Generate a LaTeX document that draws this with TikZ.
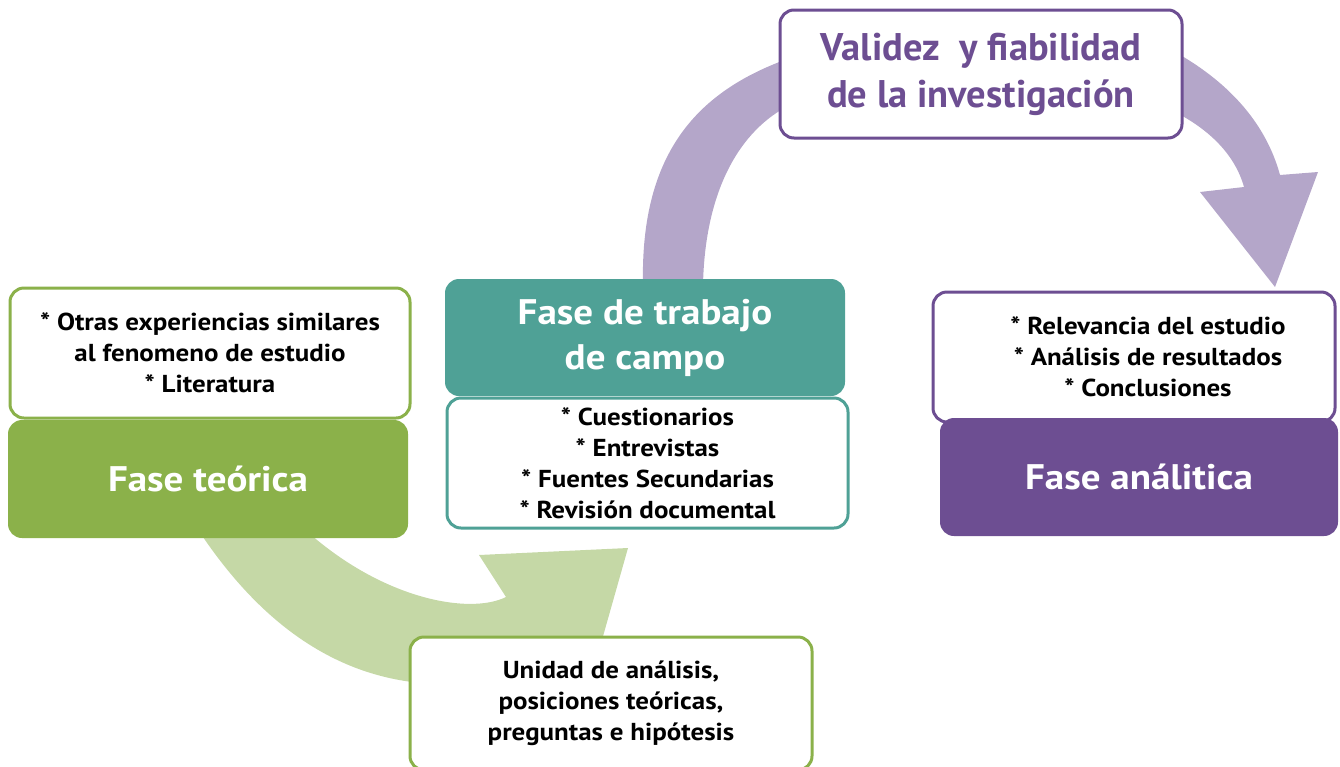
\documentclass[tikz,border=0pt]{standalone}
\usepackage{fontspec}
\setmainfont{PT Sans}[FakeStretch=1.1]
\newfontfamily\titlefont{PT Sans}
\definecolor{grn}{HTML}{8BB14A}
\definecolor{lgrn}{HTML}{C5D8A6}
\definecolor{teal}{HTML}{4FA196}
\definecolor{prp}{HTML}{6D4E92}
\definecolor{lprp}{HTML}{B4A6C9}
\begin{document}
\begin{tikzpicture}[x=1pt,y=-1pt,
  outl/.style={draw=#1, fill=white, line width=3pt, rounded corners=14pt, inner sep=0pt,
    align=center, text=black, font=\bfseries\fontsize{24.5}{31}\selectfont},
  filledbox/.style={fill=#1, rounded corners=14pt, inner sep=0pt, align=center,
    text=white, font=\bfseries\fontsize{35.5}{45}\selectfont},
  band/.style={fill=#1, draw=none}]
\useasboundingbox (0,0) rectangle (1340,766);
\clip (0,0) rectangle (1340,766);
% arrows
\path[band=lgrn] (195,525) .. controls (250,610) and (320,670) .. (412,682)
  -- (560,681) -- (581,714) -- (628,548) -- (479,555) -- (506,597)
  .. controls (470,615) and (380,600) .. (300,525) -- cycle;
\path[band=lprp] (643,285) .. controls (640,150) and (700,90) .. (790,58)
  -- (1175,52) .. controls (1225,80) and (1265,120) .. (1280,175)
  -- (1318,172) -- (1275,287) -- (1200,192) -- (1244,187)
  .. controls (1235,155) and (1210,130) .. (1175,112)
  -- (790,105) .. controls (740,130) and (705,190) .. (703,285) -- cycle;
% boxes
\node[outl=grn, minimum width=400pt, minimum height=130pt] (teo1) at (210,353)
  {* Otras experiencias similares\\ al fenomeno de estudio\\ * Literatura};
\node[filledbox=grn, minimum width=400pt, minimum height=118pt] (teo) at (208,479)
  {Fase teórica};
\node[outl=teal, minimum width=401pt, minimum height=130pt] (cam1) at (647.5,463)
  {* Cuestionarios\\ * Entrevistas\\ * Fuentes Secundarias\\ * Revisión documental};
\node[filledbox=teal, minimum width=400pt, minimum height=117pt] (cam) at (645,337.5)
  {Fase de trabajo\\ de campo};
\node[outl=prp, minimum width=402pt, minimum height=128pt, text=prp,
  font=\titlefont\bfseries\fontsize{38.5}{47}\selectfont] (val) at (981,74)
  {Validez\ \ y fiabilidad\\ de la investigación};
\node[outl=prp, minimum width=402pt, minimum height=130pt] (ana1) at (1134,357)
  {\hspace*{28pt}* Relevancia del estudio\\ \hspace*{28pt}* Análisis de resultados\\ \hspace*{28pt}* Conclusiones};
\node[filledbox=prp, minimum width=398pt, minimum height=118pt] (ana) at (1139,477)
  {Fase análitica};
\node[outl=grn, minimum width=402pt, minimum height=133pt] (uni) at (611,703.5)
  {Unidad de análisis,\\ posiciones teóricas,\\ preguntas e hipótesis};
\end{tikzpicture}
\end{document}
